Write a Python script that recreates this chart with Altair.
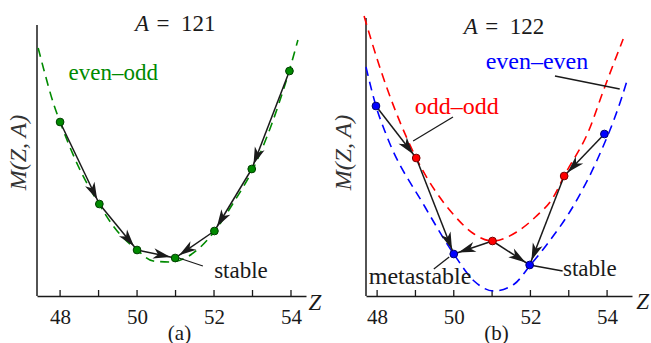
import math
import altair as alt
import pandas as pd

FONT = "Liberation Serif, Times New Roman, serif"
INK = "#1a1a1a"
GREEN = "#008a00"
RED = "#ff0000"
BLUE = "#0000ff"

# ---------------- panel (a): A = 121 (even-odd) ----------------
A_Z = [48.0, 49.02, 50.0, 50.99, 52.01, 52.98, 53.96]
A_M = [17.4, 9.2, 4.6, 3.8, 6.5, 12.7, 22.5]
A_ARROWS = [(0, 1), (1, 2), (2, 3), (6, 5), (5, 4), (4, 3)]
A_CURVE_Z = [47.43, 47.58, 47.84, 48.0, 48.47, 49.01, 49.38, 50.0, 50.42, 50.85,
             51.3, 52.0, 52.5, 53.0, 53.5, 53.96, 54.18]
A_CURVE_M = [24.8, 22.6, 19.1, 17.4, 13.0, 9.2, 7.0, 4.6, 3.5, 3.4,
             3.9, 6.4, 9.3, 12.6, 17.2, 22.6, 25.6]

# ---------------- panel (b): A = 122 ----------------
B_Z = [47.97, 49.02, 50.0, 51.01, 51.98, 52.88, 53.93]
B_M = [19.0, 13.8, 4.2, 5.5, 3.1, 12.0, 16.2]
B_KIND = ["even-even", "odd-odd", "even-even", "odd-odd", "even-even", "odd-odd", "even-even"]
B_ARROWS = [(0, 1), (1, 2), (3, 2), (3, 4), (6, 5), (5, 4)]
B_RED_Z = [47.66, 48.0, 49.02, 49.98, 50.53, 51.02, 51.64, 52.13, 52.6, 52.88, 53.54, 53.9, 54.42]
B_RED_M = [28.0, 23.7, 13.8, 8.2, 6.2, 5.5, 6.4, 7.9, 9.9, 12.0, 16.7, 20.5, 25.7]
B_BLUE_Z = [47.71, 47.97, 48.23, 49.25, 50.0, 50.53, 51.05, 51.58, 52.0, 52.44, 53.15, 53.74, 54.37, 54.55]
B_BLUE_M = [22.9, 19.0, 16.2, 8.9, 4.2, 1.5, 0.5, 1.2, 3.1, 5.2, 9.2, 13.6, 19.7, 21.9]

TICKS = [48, 49, 50, 51, 52, 53, 54]
TICK_LABELS = [48, 50, 52, 54]

KINDS = ["even-odd", "odd-odd", "even-even"]
KIND_COL = [GREEN, RED, BLUE]
KIND_EDGE = ["#003d00", "#7a0000", "#00006e"]

HEAD_PATH = "M0,-1 L0.6,1 L0,0.45 L-0.6,1 Z"
HEAD_SIZE = 300      # ~17 px long
HEAD_BACK = 13.5     # px from target centre to head centre


def panel(cfg):
    xdom, W = cfg["xdom"], cfg["W"]
    ydom, H = [0, 27.9], 279
    sx = W / (xdom[1] - xdom[0])
    sy = H / (ydom[1] - ydom[0])

    xaxis = alt.Axis(values=TICK_LABELS, ticks=False, tickSize=0, domain=True,
                     domainColor=INK, domainWidth=1.5, grid=False, format="d",
                     labelFont=FONT, labelFontSize=21, labelColor=INK, labelPadding=10,
                     labelFlush=False, title=cfg["sub"], titleFont=FONT, titleFontSize=21,
                     titleFontWeight="normal", titleColor=INK, titleX=cfg["subx"], titleY=43,
                     titleBaseline="alphabetic", titleAlign="center")
    yaxis = alt.Axis(domain=False, ticks=False, labels=False, grid=False,
                     title="M(Z, A)", titleFont=FONT, titleFontSize=24, titleFontStyle="italic",
                     titleFontWeight="normal", titleColor="#333333",
                     titlePadding=cfg["ytp"], titleY=135)
    xs = alt.Scale(domain=xdom, nice=False, zero=False)
    ys = alt.Scale(domain=ydom, nice=False, zero=False)

    def X(f):
        return alt.X(f"{f}:Q", scale=xs, axis=xaxis)

    def Y(f):
        return alt.Y(f"{f}:Q", scale=ys, axis=yaxis)

    layers = []
    # y axis line
    layers.append(alt.Chart(pd.DataFrame({"top": [cfg["ytop"]], "bot": [0]}))
                  .mark_rule(color=INK, strokeWidth=1.5)
                  .encode(x=alt.value(0), y=Y("top"), y2=alt.Y2("bot")))
    # inward ticks
    layers.append(alt.Chart(pd.DataFrame({"Z": TICKS}))
                  .mark_rule(color=INK, strokeWidth=1.3)
                  .encode(x=X("Z"), y=alt.value(H), y2=alt.value(H - 6)))
    # dashed curves
    rows = []
    for kind, cz, cm in cfg["curves"]:
        for z, m in zip(cz, cm):
            rows.append({"Z": z, "M": m, "kind": kind})
    layers.append(alt.Chart(pd.DataFrame(rows))
                  .mark_line(strokeDash=[9, 6], strokeWidth=1.6, interpolate="monotone")
                  .encode(x=X("Z"), y=Y("M"),
                          color=alt.Color("kind:N", scale=alt.Scale(domain=KINDS, range=KIND_COL),
                                          legend=None)))
    # arrows
    Z, M = cfg["Z"], cfg["M"]
    segs, heads = [], []
    for i, j in cfg["arrows"]:
        dx = (Z[j] - Z[i]) * sx
        dy = -(M[j] - M[i]) * sy
        L = math.hypot(dx, dy)
        ux, uy = dx / L, dy / L
        segs.append({"Z": Z[i], "M": M[i], "Z2": Z[j], "M2": M[j]})
        heads.append({"Z": Z[j] - HEAD_BACK * ux / sx, "M": M[j] + HEAD_BACK * uy / sy,
                      "ang": math.degrees(math.atan2(ux, -uy)) % 360})
    layers.append(alt.Chart(pd.DataFrame(segs))
                  .mark_rule(color=INK, strokeWidth=1.5)
                  .encode(x=X("Z"), y=Y("M"), x2=alt.X2("Z2"), y2=alt.Y2("M2")))
    # leader lines
    layers.append(alt.Chart(pd.DataFrame(cfg["leaders"], columns=["Z", "M", "Z2", "M2"]))
                  .mark_rule(color=INK, strokeWidth=1.3)
                  .encode(x=X("Z"), y=Y("M"), x2=alt.X2("Z2"), y2=alt.Y2("M2")))
    layers.append(alt.Chart(pd.DataFrame(heads))
                  .mark_point(shape=HEAD_PATH, filled=True, size=HEAD_SIZE, color=INK, opacity=1)
                  .encode(x=X("Z"), y=Y("M"), angle=alt.Angle("ang:Q", scale=None)))
    # points
    layers.append(alt.Chart(pd.DataFrame({"Z": Z, "M": M, "kind": cfg["kind"]}))
                  .mark_point(filled=True, size=60, strokeWidth=1, opacity=1, fillOpacity=1)
                  .encode(x=X("Z"), y=Y("M"),
                          fill=alt.Fill("kind:N", scale=alt.Scale(domain=KINDS, range=KIND_COL), legend=None),
                          stroke=alt.Stroke("kind:N", scale=alt.Scale(domain=KINDS, range=KIND_EDGE), legend=None)))
    # texts
    for t in cfg["texts"]:
        txt, z, m, col, size, style, align = t
        layers.append(alt.Chart(pd.DataFrame({"Z": [z], "M": [m], "t": [txt]}))
                      .mark_text(font=FONT, fontSize=size, color=col, fontStyle=style,
                                 align=align, baseline="alphabetic")
                      .encode(x=X("Z"), y=Y("M"), text="t:N"))
    return alt.layer(*layers).properties(width=W, height=H)


cfg_a = dict(
    xdom=[47.40, 54.39], W=269, sub="(a)", subx=142, ytp=7, ytop=27.1,
    Z=A_Z, M=A_M, kind=["even-odd"] * len(A_Z), arrows=A_ARROWS,
    curves=[("even-odd", A_CURVE_Z, A_CURVE_M)],
    leaders=[(51.01, 3.9, 51.71, 3.0)],
    texts=[("A", 50.31, 26.5, INK, 23, "italic", "right"),
           ("=\u2002121", 51.27, 26.5, INK, 23, "normal", "center"),
           ("even\u2013odd", 49.38, 21.6, GREEN, 23, "normal", "center"),
           ("stable", 52.70, 1.8, INK, 23, "normal", "center"),
           ("Z", 54.62, -1.4, INK, 23, "italic", "center")],
)
cfg_b = dict(
    xdom=[47.71, 54.65], W=266, sub="(b)", subx=130, ytp=11, ytop=27.8,
    Z=B_Z, M=B_M, kind=B_KIND, arrows=B_ARROWS,
    curves=[("odd-odd", B_RED_Z, B_RED_M), ("even-even", B_BLUE_Z, B_BLUE_M)],
    leaders=[(48.94, 15.5, 49.98, 17.9), (52.64, 22.0, 54.33, 20.7),
             (49.48, 2.7, 49.88, 3.9), (51.98, 3.1, 52.84, 2.5)],
    texts=[("A", 50.63, 26.2, INK, 23, "italic", "right"),
           ("=\u2002122", 51.59, 26.2, INK, 23, "normal", "center"),
           ("even\u2013even", 52.17, 22.7, BLUE, 24, "normal", "center"),
           ("odd\u2013odd", 50.08, 18.2, RED, 24, "normal", "center"),
           ("metastable", 49.12, 1.2, INK, 24, "normal", "center"),
           ("stable", 53.55, 2.0, INK, 23, "normal", "center"),
           ("Z", 54.93, -1.3, INK, 23, "italic", "center")],
)

chart = alt.hconcat(panel(cfg_a), panel(cfg_b), spacing=60, bounds="flush") \
    .configure_view(stroke=None) \
    .properties(padding={"left": 6, "top": 12, "right": 0, "bottom": 0}, background="white")

chart.save("out.html", embed_options={"renderer": "svg", "actions": False})
